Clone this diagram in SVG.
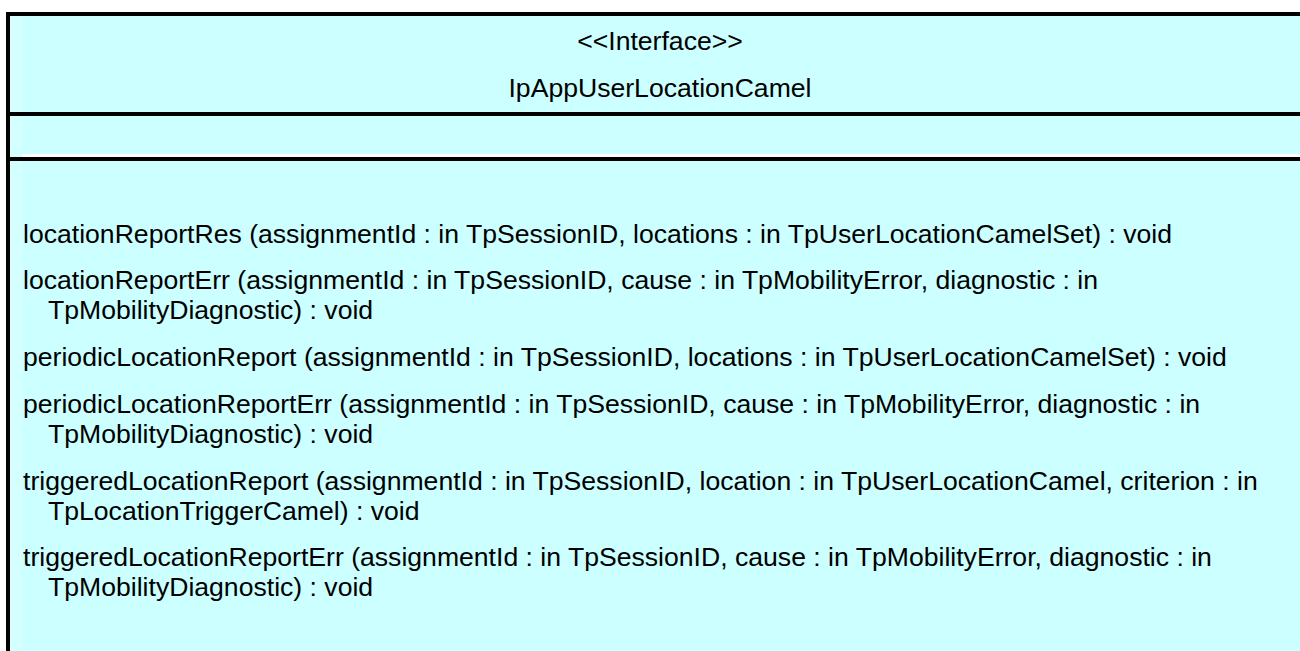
<svg xmlns="http://www.w3.org/2000/svg" width="1300" height="651" viewBox="0 0 1300 651">
  <style>
    .t { font-family: "Liberation Sans", Arial, sans-serif; font-size: 26.6px; fill: #000; }
    .c { text-anchor: middle; }
    .ln { stroke: #000; stroke-width: 4; fill: none; }
  </style>
  <rect width="1300" height="651" fill="#fff"/>
  <g id="IpAppUserLocationCamel">
    <rect x="8" y="14" width="1300" height="640" fill="#CCFFFF"/>
    <rect x="10" y="16" width="12" height="635" fill="#D3FFFF"/>
    <rect x="22" y="154" width="1278" height="3" fill="#FFFFFF"/>
    <line class="ln" x1="6" y1="14" x2="1300" y2="14"/>
    <line class="ln" x1="8" y1="12" x2="8" y2="651"/>
    <line class="ln" x1="6" y1="114" x2="1300" y2="114"/>
    <line class="ln" x1="6" y1="159" x2="1300" y2="159"/>
    <text class="t c" x="660" y="50">&lt;&lt;Interface&gt;&gt;</text>
    <text class="t c" x="660" y="97">IpAppUserLocationCamel</text>
    <text class="t" x="23" y="243">locationReportRes (assignmentId : in TpSessionID, locations : in TpUserLocationCamelSet) : void</text>
    <text class="t" x="23" y="289">locationReportErr (assignmentId : in TpSessionID, cause : in TpMobilityError, diagnostic : in</text>
    <text class="t" x="48" y="319">TpMobilityDiagnostic) : void</text>
    <text class="t" x="23" y="366">periodicLocationReport (assignmentId : in TpSessionID, locations : in TpUserLocationCamelSet) : void</text>
    <text class="t" x="23" y="413">periodicLocationReportErr (assignmentId : in TpSessionID, cause : in TpMobilityError, diagnostic : in</text>
    <text class="t" x="48" y="443">TpMobilityDiagnostic) : void</text>
    <text class="t" x="23" y="490">triggeredLocationReport (assignmentId : in TpSessionID, location : in TpUserLocationCamel, criterion : in</text>
    <text class="t" x="48" y="520">TpLocationTriggerCamel) : void</text>
    <text class="t" x="23" y="566">triggeredLocationReportErr (assignmentId : in TpSessionID, cause : in TpMobilityError, diagnostic : in</text>
    <text class="t" x="48" y="596">TpMobilityDiagnostic) : void</text>
  </g>
  <g id="connectors"/>
</svg>
